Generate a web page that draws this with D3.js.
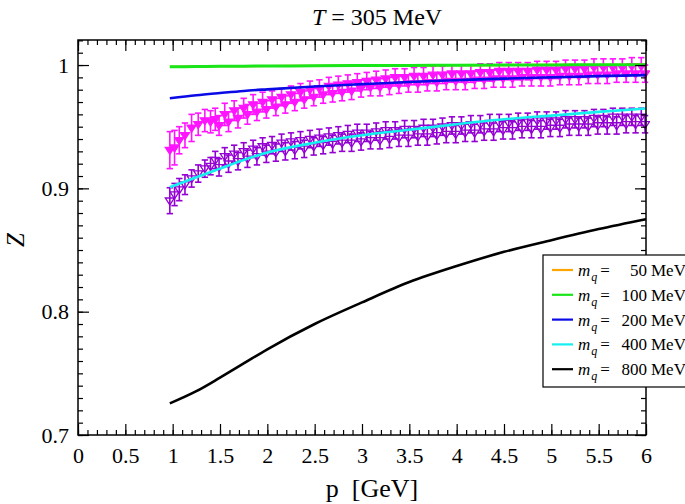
<!DOCTYPE html>
<html><head><meta charset="utf-8">
<script src="https://cdn.jsdelivr.net/npm/d3@7"></script>
<style>body{margin:0;background:#fff}svg{display:block}svg text{font-family:"Liberation Serif","Times New Roman","DejaVu Serif",serif !important;fill:#000}</style>
</head><body><svg id="c" width="685" height="504"></svg>
<script>
// ---- data ----
const xTicks = [0,0.5,1,1.5,2,2.5,3,3.5,4,4.5,5,5.5,6];
const xTickLabels = ["0","0.5","1","1.5","2","2.5","3","3.5","4","4.5","5","5.5","6"];
const yTicks = [0.7,0.8,0.9,1.0];
const yTickLabels = ["0.7","0.8","0.9","1"];

const pCurve = [0.97,1.25,1.5,1.75,2.0,2.5,3.0,3.5,4.0,4.5,5.0,5.5,6.0];
const z50  = [0.9986,0.9988,0.9990,0.9991,0.9992,0.9994,0.9996,0.9997,0.9999,1.0000,1.0001,1.0002,1.0003];
const z100 = [0.9986,0.9988,0.9990,0.9991,0.9992,0.9994,0.9996,0.9997,0.9999,1.0000,1.0001,1.0002,1.0003];
const z200 = [0.9730,0.9755,0.9773,0.9790,0.9803,0.9826,0.9845,0.9863,0.9877,0.9890,0.9900,0.9910,0.9918];
const z400 = [0.9010,0.9090,0.9160,0.9230,0.9290,0.9370,0.9430,0.9475,0.9520,0.9560,0.9590,0.9620,0.9647];
const z800 = [0.7256,0.7355,0.7465,0.7580,0.7695,0.7900,0.8075,0.8240,0.8370,0.8485,0.8580,0.8670,0.8750];
const curveLabels = ["50","100","200","400","800"];
const curveColors = ["#ffa500","#19e619","#0a0ae6","#14f0f0","#000000"];

const pData = [0.97,1.02,1.07,1.13,1.20,1.27,1.34,1.40,
 1.45,1.49,1.55,1.59,1.65,1.69,1.75,1.79,1.85,1.89,1.95,1.99,
 2.05,2.09,2.15,2.19,2.25,2.29,2.35,2.39,2.45,2.49,2.55,2.59,2.65,2.69,2.75,2.79,2.85,2.89,2.95,2.99,
 3.05,3.09,3.15,3.19,3.25,3.29,3.35,3.39,3.45,3.49,3.55,3.59,3.65,3.69,3.75,3.79,3.85,3.89,3.95,3.99,
 4.05,4.09,4.15,4.19,4.25,4.29,4.35,4.39,4.45,4.49,4.55,4.59,4.65,4.69,4.75,4.79,4.85,4.89,4.95,4.99,
 5.05,5.09,5.15,5.19,5.25,5.29,5.35,5.39,5.45,5.49,5.55,5.59,5.65,5.69,5.75,5.79,5.85,5.89,5.95,5.99];
const zMagenta = [0.931,0.933,0.939,0.943,0.949,0.952,0.955,0.954,
 0.956,0.951,0.960,0.954,0.963,0.957,0.965,0.960,0.968,0.962,0.970,0.964,
 0.972,0.966,0.974,0.968,0.976,0.970,0.978,0.972,0.980,0.974,0.981,0.976,0.983,0.977,0.984,0.978,0.985,0.979,0.986,0.981,
 0.987,0.982,0.988,0.982,0.989,0.983,0.990,0.984,0.990,0.985,0.991,0.985,0.991,0.986,0.992,0.986,0.992,0.987,0.993,0.987,
 0.993,0.987,0.993,0.988,0.994,0.988,0.994,0.989,0.995,0.989,0.995,0.989,0.995,0.990,0.995,0.990,0.996,0.990,0.996,0.990,
 0.996,0.991,0.997,0.991,0.997,0.991,0.997,0.992,0.998,0.992,0.998,0.992,0.998,0.993,0.998,0.993,0.999,0.993,0.999,0.993];
const eMagenta = [0.015,0.014,0.011,0.010,0.011,0.009,0.009,0.009,
 0.009,0.008,0.009,0.008,0.008,0.008,0.008,0.008,0.008,0.007,0.008,0.007,
 0.007,0.007,0.007,0.007,0.007,0.007,0.007,0.007,0.007,0.007,0.007,0.007,0.007,0.007,0.007,0.007,0.007,0.007,0.007,0.007,
 0.007,0.007,0.007,0.007,0.007,0.007,0.007,0.007,0.007,0.007,0.007,0.007,0.007,0.007,0.007,0.007,0.007,0.007,0.007,0.007,
 0.007,0.007,0.007,0.007,0.007,0.007,0.007,0.007,0.007,0.007,0.007,0.007,0.007,0.007,0.007,0.007,0.007,0.007,0.007,0.007,
 0.007,0.007,0.007,0.007,0.007,0.007,0.007,0.007,0.007,0.007,0.007,0.007,0.007,0.007,0.007,0.007,0.007,0.007,0.007,0.007];
const zPurple = [0.890,0.895,0.899,0.903,0.908,0.912,0.916,0.918,
 0.923,0.917,0.926,0.920,0.928,0.922,0.930,0.924,0.932,0.926,0.934,0.928,
 0.935,0.929,0.937,0.930,0.938,0.931,0.939,0.932,0.940,0.934,0.941,0.935,0.942,0.936,0.943,0.937,0.944,0.937,0.945,0.938,
 0.945,0.939,0.946,0.939,0.947,0.940,0.947,0.941,0.948,0.941,0.948,0.942,0.949,0.942,0.949,0.943,0.950,0.944,0.951,0.944,
 0.951,0.945,0.952,0.945,0.952,0.946,0.953,0.946,0.953,0.947,0.953,0.947,0.954,0.948,0.954,0.948,0.955,0.948,0.955,0.949,
 0.955,0.949,0.956,0.950,0.956,0.950,0.956,0.950,0.957,0.951,0.957,0.951,0.958,0.951,0.958,0.952,0.958,0.952,0.958,0.952];
const ePurple = [0.0105,0.009,0.009,0.008,0.007,0.007,0.007,0.007,
 0.007,0.007,0.007,0.007,0.007,0.007,0.007,0.007,0.007,0.007,0.007,0.007,
 0.007,0.007,0.007,0.007,0.007,0.007,0.007,0.007,0.007,0.007,0.007,0.007,0.007,0.007,0.007,0.007,0.007,0.007,0.007,0.007,
 0.007,0.007,0.007,0.007,0.007,0.007,0.007,0.007,0.007,0.007,0.007,0.007,0.007,0.007,0.007,0.007,0.007,0.007,0.007,0.007,
 0.007,0.007,0.007,0.007,0.007,0.007,0.007,0.007,0.007,0.007,0.007,0.007,0.007,0.007,0.007,0.007,0.007,0.007,0.007,0.007,
 0.007,0.007,0.007,0.007,0.007,0.007,0.007,0.007,0.007,0.007,0.007,0.007,0.007,0.007,0.007,0.007,0.007,0.007,0.007,0.007];

// ---- drawing ----
const svg = d3.select("#c");
const SERIF = '"Liberation Serif","Times New Roman",serif';
const L=78,R=646,T=40,B=435;
const x = d3.scaleLinear([0,6],[L,R]);
const y = d3.scaleLinear([0.7,1.0203],[B,T]);

const plot = svg.append("g");
plot.append("clipPath").attr("id","clip").append("rect").attr("x",L).attr("y",T).attr("width",R-L+4).attr("height",B-T);

function drawSeries(zs, es, color, filled){
  const g = plot.append("g").attr("clip-path","url(#clip)");
  pData.forEach((p,i)=>{
    const cx=x(p), y1=y(zs[i]+es[i]), y2=y(zs[i]-es[i]), cy=y(zs[i]);
    const gg=g.append("g").attr("stroke",color).attr("stroke-width",1.6).attr("fill","none");
    gg.append("line").attr("x1",cx).attr("x2",cx).attr("y1",y1).attr("y2",y2);
    gg.append("line").attr("x1",cx-3.2).attr("x2",cx+3.2).attr("y1",y1).attr("y2",y1);
    gg.append("line").attr("x1",cx-3.2).attr("x2",cx+3.2).attr("y1",y2).attr("y2",y2);
    const s=4.5;
    g.append("path").attr("d",`M${cx-s},${cy-s*0.6}L${cx+s},${cy-s*0.6}L${cx},${cy+s*0.95}Z`)
      .attr("fill",filled?color:"none").attr("stroke",color).attr("stroke-width",1.3);
  });
}
drawSeries(zMagenta,eMagenta,"#ff14ff",true);
drawSeries(zPurple,ePurple,"#9400d3",false);

const line = d3.line().x((d,i)=>x(pCurve[i])).y(d=>y(d)).curve(d3.curveMonotoneX);
[z50,z100,z200,z400,z800].forEach((arr,k)=>{
  plot.append("path").attr("d",line(arr)).attr("fill","none")
    .attr("stroke",curveColors[k]).attr("stroke-width",k===0?2.2:(k===1?3:2.6));
});

const minorX = d3.range(0,61).map(i=>i/10);
const minorY = d3.range(70,103).map(i=>i/100);
function ax(axisFn, pos, transform, vals, size, labels){
  const a = axisFn(pos).tickValues(vals).tickSize(size).tickPadding(labels?12:0)
    .tickFormat(labels?((d,i)=>labels[i]):"");
  const g = svg.append("g").attr("transform",transform).call(a);
  g.attr("font-family",SERIF).attr("font-size",22);
  g.select(".domain").remove();
  g.selectAll(".tick line").attr("stroke","#000").attr("stroke-width",1.2);
  g.selectAll("text").style("font-family",SERIF).style("font-size","22px").attr("fill","#000");
  return g;
}
ax(d3.axisBottom,x,`translate(0,${B})`,minorX,-5,null);
ax(d3.axisBottom,x,`translate(0,${B})`,xTicks,-11,xTickLabels);
ax(d3.axisTop,x,`translate(0,${T})`,minorX,-5,null);
ax(d3.axisTop,x,`translate(0,${T})`,xTicks,-11,null);
ax(d3.axisLeft,y,`translate(${L},0)`,minorY,-5,null);
const yl = ax(d3.axisLeft,y,`translate(${L},0)`,yTicks,-11,yTickLabels);
yl.selectAll("text").attr("x",-9);
ax(d3.axisRight,y,`translate(${R},0)`,minorY,-5,null);
ax(d3.axisRight,y,`translate(${R},0)`,yTicks,-11,null);
svg.append("rect").attr("x",L).attr("y",T).attr("width",R-L).attr("height",B-T)
  .attr("fill","none").attr("stroke","#000").attr("stroke-width",1.5);

const lg = svg.append("g");
lg.append("rect").attr("x",543).attr("y",255).attr("width",150).attr("height",132)
  .attr("fill","#fff").attr("stroke","#000").attr("stroke-width",1.2);
curveLabels.forEach((lab,k)=>{
  const cy = 270 + k*24.8;
  lg.append("line").attr("x1",552).attr("x2",573).attr("y1",cy).attr("y2",cy)
    .attr("stroke",curveColors[k]).attr("stroke-width",2.2);
  const t = lg.append("text").attr("x",578).attr("y",cy+6).style("font-size","17px");
  t.append("tspan").attr("font-style","italic").text("m");
  t.append("tspan").attr("font-style","italic").style("font-size","12px").attr("dy",5).attr("dx",1).text("q");
  t.append("tspan").attr("dy",-5).attr("dx",3).text("=");
  lg.append("text").attr("x",647).attr("y",cy+6).style("font-size","17px").attr("text-anchor","end").text(lab);
  lg.append("text").attr("x",651).attr("y",cy+6).style("font-size","17px").text("MeV");
});

const tt = svg.append("text").attr("x",377).attr("y",25).attr("text-anchor","middle").style("font-size","24px");
tt.append("tspan").attr("font-style","italic").text("T");
tt.append("tspan").text(" = 305 MeV");
svg.append("text").attr("x",372).attr("y",497).attr("text-anchor","middle").style("font-size","26px")
  .style("white-space","pre").text("p  [GeV]");
svg.append("text").attr("transform","translate(24,240) rotate(-90)").attr("text-anchor","middle")
  .style("font-size","25px").attr("font-style","italic").text("Z");
</script></body></html>
